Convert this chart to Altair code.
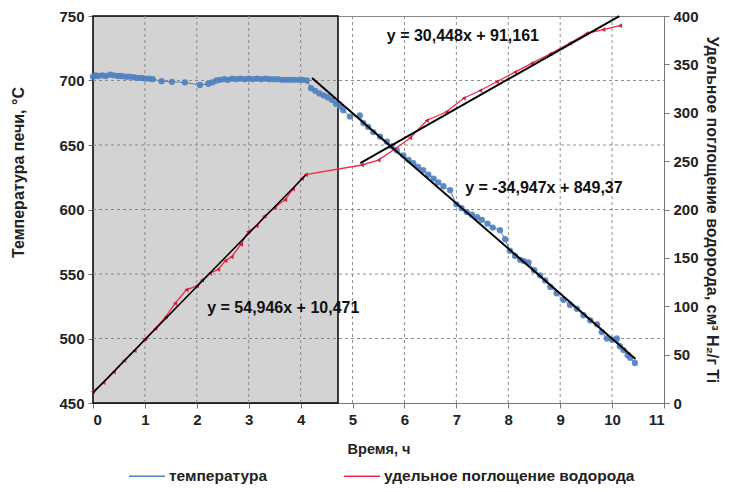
import altair as alt
import pandas as pd

# ---- data ----
temp_time = [0.0, 0.05, 0.1, 0.18, 0.25, 0.33, 0.4, 0.48, 0.55, 0.63, 0.7, 0.78, 0.85, 0.93, 1.0, 1.08, 1.15,
             1.32, 1.52, 1.77, 2.06, 2.22, 2.3, 2.38, 2.45, 2.53, 2.6, 2.68, 2.76, 2.84, 2.92, 3.0, 3.08, 3.16,
             3.24, 3.32, 3.4, 3.48, 3.56, 3.64, 3.72, 3.8, 3.88, 3.96, 4.04, 4.12,
             4.2, 4.28, 4.36, 4.44, 4.52, 4.6, 4.68, 4.76, 4.82, 4.95, 5.14, 5.21, 5.3, 5.4, 5.53, 5.66, 5.75,
             5.85, 5.98, 6.08, 6.17, 6.26, 6.36, 6.46, 6.56, 6.65, 6.75, 6.88, 7.0, 7.1, 7.2, 7.3, 7.4, 7.49,
             7.6, 7.7, 7.84, 7.94, 8.03, 8.13, 8.23, 8.3, 8.39, 8.5, 8.61, 8.71, 8.81, 8.93, 9.06, 9.19, 9.32,
             9.45, 9.58, 9.71, 9.8, 9.9, 10.0, 10.09, 10.15, 10.22, 10.3, 10.35, 10.44]
temp_vals = [703, 704, 703.5, 704, 703.5, 704.5, 704, 703.5, 703.5, 703, 703, 702.5, 702, 702, 701.5, 701.5, 701,
             699.5, 699, 698.5, 696.5, 697.5, 698.5, 700, 700.5, 701, 700.5, 701.5, 701, 701.5, 701, 701.5, 701,
             701.5, 701, 701.5, 701, 701, 701, 700.5, 700.5, 700.5, 700.5, 700.5, 700.5, 700,
             694, 692, 690, 688.5, 687, 685, 682, 680, 677, 672, 673, 667, 664, 660, 656.5, 652.5, 649,
             646, 642, 638.5, 636, 633, 630.5, 627, 624, 621, 618, 615, 604, 601, 598, 596, 594, 592,
             589, 586, 584, 577, 568, 564, 561, 560, 559, 553, 549, 545, 540, 535, 530, 526, 523,
             518, 514, 511, 505, 500, 499, 500, 494, 491, 487, 485, 481]

h2_time = [0.0, 0.2, 0.4, 0.6, 0.8, 1.0, 1.2, 1.4, 1.58, 1.8, 2.0, 2.1, 2.25, 2.41, 2.55, 2.67, 2.85, 2.99,
           3.15, 3.3, 3.5, 3.7, 3.85, 4.02, 4.1,
           5.18, 5.5, 5.8, 6.11, 6.43, 6.81, 7.14, 7.46, 7.78, 8.13, 8.45, 8.81, 9.19, 9.51, 9.83, 10.15]
h2_vals = [12, 21, 32, 44, 54, 66, 77, 89, 103, 117, 121, 127, 134, 138, 147, 151, 164, 177,
           183, 193, 202, 210, 221, 232, 236,
           246, 251, 262, 274, 292, 301, 315, 323, 332, 342, 351, 361, 372, 382, 386, 390]

series_names = ["температура", "удельное поглощение водорода"]
series_colors = ["#4F7FC0", "#F0284A"]

# trend lines: slope, intercept, start, end (from the printed equations)
trend_slope = [54.946, 30.448, -34.947]
trend_icpt = [10.471, 91.161, 849.37]
trend_from = [0.0, 5.15, 4.22]
trend_to = [4.1, 10.14, 10.45]
trend_text = ["y = 54,946x + 10,471", "y = 30,448x + 91,161", "y = -34,947x + 849,37"]
text_x = [2.2, 5.66, 7.17]
text_y = [98, 379, 616.7]

shade_from, shade_to = 0.0, 4.72

x_ticks = list(range(0, 12))
left_ticks = [450, 500, 550, 600, 650, 700, 750]
right_ticks = [0, 50, 100, 150, 200, 250, 300, 350, 400]

FONT = "Liberation Sans"

# ---- frames ----
temp_df = pd.DataFrame({"t": temp_time, "v": temp_vals, "s": series_names[0]})
h2_df = pd.DataFrame({"t": h2_time, "h": h2_vals, "s": series_names[1]})
vgrid_df = pd.DataFrame({"t": [float(v) for v in x_ticks[1:-1]], "v": 450.0, "v2": 750.0})
hgrid_df = pd.DataFrame({"v": [float(v) for v in left_ticks[1:-1]], "t": 0.0, "t2": 11.0})


def trend_df(i, col):
    return pd.DataFrame({
        "t": [trend_from[i], trend_to[i]],
        col: [trend_slope[i] * trend_from[i] + trend_icpt[i], trend_slope[i] * trend_to[i] + trend_icpt[i]],
    })


shade_df = pd.DataFrame({"t": [shade_from], "t1": [shade_to], "v": [450], "v1": [750]})

x_scale = alt.Scale(domain=[0, 11], nice=False, zero=False)
yl_scale = alt.Scale(domain=[450, 750], nice=False, zero=False)
yr_scale = alt.Scale(domain=[0, 400], nice=False, zero=False)
color_scale = alt.Scale(domain=series_names, range=series_colors)

x_axis = alt.Axis(values=x_ticks, title="Время, ч", grid=False, tickSize=5, labelPadding=4, titlePadding=15,
                  domainColor="#777", tickColor="#777", titleFontSize=14.5)
yl_axis = alt.Axis(values=left_ticks, title="Температура печи, °С", grid=False, tickSize=5, labelPadding=4,
                   domainColor="#777", tickColor="#777", orient="left",
                   titleFontSize=16, titleX=-75, titleY=156, titleBaseline="middle", titleAngle=270)
yr_axis = alt.Axis(values=right_ticks, title="Удельное поглощение водорода, см³ H₂/г Ti", grid=False,
                   tickSize=5, labelPadding=4, titlePadding=5, domainColor="#777", tickColor="#777",
                   orient="right", titleFontSize=16)

legend = alt.Legend(title=None, orient="none", legendX=35, legendY=441, direction="horizontal",
                    symbolType="stroke", symbolSize=1300, symbolStrokeWidth=1.5, labelFont=FONT,
                    labelFontSize=15.5, labelFontWeight="bold", labelColor="#222", columnPadding=72,
                    labelOffset=3, labelLimit=500)

X = alt.X("t:Q", scale=x_scale, axis=x_axis)
YL = alt.Y("v:Q", scale=yl_scale, axis=None)
YR = alt.Y("h:Q", scale=yr_scale, axis=None)

grid_style = dict(color="#8c8c8c", strokeDash=[3, 3], strokeWidth=1, opacity=1)
vgrid = alt.Chart(vgrid_df).mark_rule(**grid_style).encode(x=X, y=YL, y2="v2")
hgrid = alt.Chart(hgrid_df).mark_rule(**grid_style).encode(x=X, x2="t2", y=YL)

shade = alt.Chart(shade_df).mark_rect(fill="#c4c4c4", fillOpacity=0.75, stroke="black",
                                      strokeWidth=1.5).encode(
    x=X, x2="t1",
    y=alt.Y("v:Q", scale=yl_scale, axis=yl_axis), y2="v1")

temp_line = alt.Chart(temp_df).mark_line(strokeWidth=1).encode(
    x=X, y=YL, color=alt.Color("s:N", scale=color_scale, legend=legend))
temp_pts = alt.Chart(temp_df).mark_circle(size=40, opacity=0.9, color=series_colors[0]).encode(x=X, y=YL)
temp_trend = alt.Chart(trend_df(2, "v")).mark_line(color="black", strokeWidth=2).encode(x=X, y=YL)

txt_style = dict(align="left", baseline="middle", font=FONT, fontSize=16, fontWeight="bold", color="#111")
temp_lbl = alt.Chart(pd.DataFrame({"t": [text_x[2]], "v": [text_y[2]], "l": [trend_text[2]]})).mark_text(
    **txt_style).encode(x=X, y=YL, text="l:N")

h2_line = alt.Chart(h2_df).mark_line(strokeWidth=1.3).encode(
    x=X, y=alt.Y("h:Q", scale=yr_scale, axis=yr_axis),
    color=alt.Color("s:N", scale=color_scale, legend=None))
h2_pts = alt.Chart(h2_df).mark_point(shape="triangle-left", size=22, filled=True, opacity=1,
                                     color="#D0203C").encode(x=X, y=YR)
h2_tr1 = alt.Chart(trend_df(0, "h")).mark_line(color="black", strokeWidth=1.5).encode(x=X, y=YR)
h2_tr2 = alt.Chart(trend_df(1, "h")).mark_line(color="black", strokeWidth=2).encode(x=X, y=YR)
h2_lbl = alt.Chart(pd.DataFrame({"t": text_x[:2], "h": text_y[:2], "l": trend_text[:2]})).mark_text(
    **txt_style).encode(x=X, y=YR, text="l:N")

chart = alt.layer(
    shade, vgrid, hgrid, temp_line, temp_pts, h2_line, h2_pts, h2_tr1, h2_tr2, temp_trend, temp_lbl, h2_lbl
).resolve_scale(y="independent").properties(
    width=571, height=387,
    autosize=alt.AutoSizeParams(type="none"),
    padding={"left": 85, "top": 8, "right": 58, "bottom": 81},
    background="white",
).configure_view(stroke="#888", strokeWidth=1).configure_axis(
    labelFont=FONT, labelFontSize=15, labelFontWeight="bold", labelColor="#222",
    titleFont=FONT, titleFontSize=14, titleFontWeight="bold", titleColor="#222",
)

chart.save("out.html", embed_options={"renderer": "svg", "actions": False})
